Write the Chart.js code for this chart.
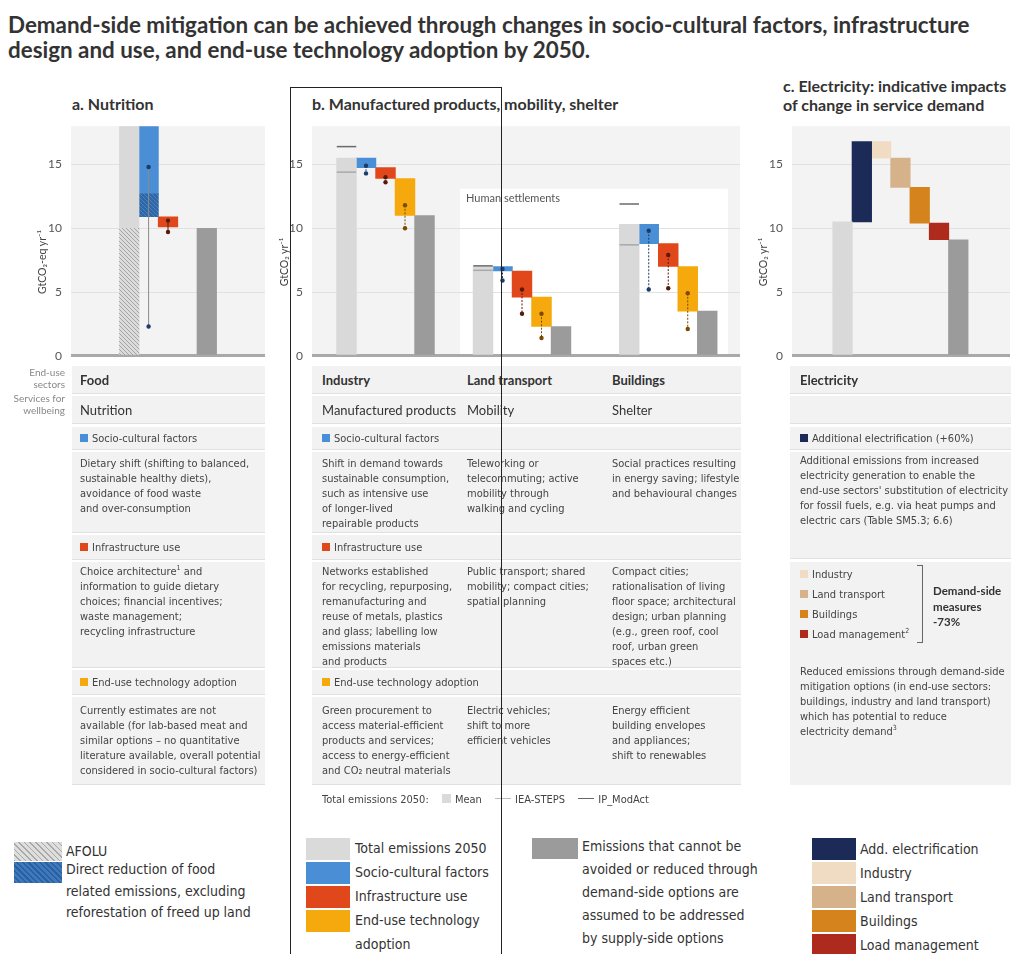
<!DOCTYPE html>
<html>
<head>
<meta charset="utf-8">
<script src="https://cdn.jsdelivr.net/npm/chart.js@4.4.1/dist/chart.umd.min.js"></script>
<style>
  body { margin:0; width:1013px; height:954px; overflow:hidden; background:#fff; position:relative;
         font-family: Lato, 'Open Sans', sans-serif; color:#3a3a3a; }
  canvas { position:absolute; }
  h1 { position:absolute; left:8px; top:12px; margin:0; font-size:22.4px; line-height:25px; font-weight:700; color:#333; white-space:nowrap; }
  .ptitle { position:absolute; font-weight:700; font-size:16px; line-height:19px; color:#333; white-space:nowrap; }
  .ytitle { position:absolute; width:120px; height:14px; margin-left:-60px; margin-top:-7px; text-align:center;
            font-size:10.5px; line-height:14px; color:#444; transform:rotate(-90deg); white-space:nowrap; }
  .side { position:absolute; right:948px; text-align:right; font-size:10px; line-height:12px; color:#888; }
  .cell { position:absolute; background:#f2f2f2; box-shadow: inset 0 -1px 0 #e0e0e0;
          font-family:'Liberation Sans Narrow', 'DejaVu Sans Condensed', sans-serif; font-size:11px; color:#444; }
  .pa { left:72px; width:193px; } .pb { left:312px; width:429px; } .pc { left:790px; width:221px; }
  .c { position:absolute; white-space:nowrap; }
  .r0 { top:366px; height:28px; line-height:28px; } .r1 { top:396px; height:28px; line-height:28px; }
  .r2 { top:427px; height:23px; line-height:23px; } .r3 { top:452px; height:81px; line-height:15px; }
  .r4 { top:535px; height:25px; line-height:25px; } .r5 { top:562px; height:106px; line-height:15px; }
  .r6 { top:670px; height:25px; line-height:25px; } .r7 { top:697px; height:88px; line-height:15px; }
  .r0 .c { font-family:Lato, sans-serif; font-weight:700; font-size:13px; color:#333; }
  .r1 .c { font-family:Lato, sans-serif; font-size:13px; color:#333; }
  .r3 .c { top:4px; } .r5 .c { top:2px; } .r7 .c { top:6px; }
  .sq { display:inline-block; width:8px; height:8px; margin-right:4px; vertical-align:0px; }
  .leg { position:absolute; font-family:'Liberation Sans Narrow', 'DejaVu Sans Condensed', sans-serif; font-size:14px; color:#333; white-space:nowrap; }
  .sw { position:absolute; }
  sup { font-size:7px; line-height:0; }
</style>
</head>
<body>
<h1>Demand-side mitigation can be achieved through changes in socio-cultural factors, infrastructure<br>design and use, and end-use technology adoption by 2050.</h1>

<div class="ptitle" style="left:72px; top:94px;">a. Nutrition</div>
<div class="ptitle" style="left:312px; top:94px;">b. Manufactured products, mobility, shelter</div>
<div class="ptitle" style="left:783px; top:76px;">c. Electricity: indicative impacts<br>of change in service demand</div>

<canvas id="chartA" width="238" height="262" style="left:32px; top:110px;"></canvas>
<canvas id="chartB" width="472" height="262" style="left:273px; top:110px;"></canvas>
<canvas id="chartC" width="260" height="262" style="left:753px; top:110px;"></canvas>

<div class="ytitle" style="left:42px; top:262px;">GtCO₂-eq yr⁻¹</div>
<div class="ytitle" style="left:284px; top:262px;">GtCO₂ yr⁻¹</div>
<div class="ytitle" style="left:763px; top:262px;">GtCO₂ yr⁻¹</div>

<div class="side" style="top:366px;">End-use<br>sectors</div>
<div class="side" style="top:392px;">Services for<br>wellbeing</div>

<!-- a. Nutrition -->
<div class="cell pa r0"><div class="c" style="left:8px">Food</div></div>
<div class="cell pa r1"><div class="c" style="left:8px">Nutrition</div></div>
<div class="cell pa r2"><div class="c" style="left:8px"><span class="sq" style="background:#4a8fd6"></span>Socio-cultural factors</div></div>
<div class="cell pa r3"><div class="c" style="left:8px">Dietary shift (shifting to balanced,<br>sustainable healthy diets),<br>avoidance of food waste<br>and over-consumption</div></div>
<div class="cell pa r4"><div class="c" style="left:8px"><span class="sq" style="background:#e0481c"></span>Infrastructure use</div></div>
<div class="cell pa r5"><div class="c" style="left:8px">Choice architecture<sup>1</sup> and<br>information to guide dietary<br>choices; financial incentives;<br>waste management;<br>recycling infrastructure</div></div>
<div class="cell pa r6"><div class="c" style="left:8px"><span class="sq" style="background:#f5a90c"></span>End-use technology adoption</div></div>
<div class="cell pa r7"><div class="c" style="left:8px">Currently estimates are not<br>available (for lab-based meat and<br>similar options – no quantitative<br>literature available, overall potential<br>considered in socio-cultural factors)</div></div>

<!-- b. Manufactured products, mobility, shelter -->
<div class="cell pb r0"><div class="c" style="left:10px">Industry</div><div class="c" style="left:155px">Land transport</div><div class="c" style="left:300px">Buildings</div></div>
<div class="cell pb r1"><div class="c" style="left:10px">Manufactured products</div><div class="c" style="left:155px">Mobility</div><div class="c" style="left:300px">Shelter</div></div>
<div class="cell pb r2"><div class="c" style="left:10px"><span class="sq" style="background:#4a8fd6"></span>Socio-cultural factors</div></div>
<div class="cell pb r3"><div class="c" style="left:10px">Shift in demand towards<br>sustainable consumption,<br>such as intensive use<br>of longer-lived<br>repairable products</div><div class="c" style="left:155px">Teleworking or<br>telecommuting; active<br>mobility through<br>walking and cycling</div><div class="c" style="left:300px">Social practices resulting<br>in energy saving; lifestyle<br>and behavioural changes</div></div>
<div class="cell pb r4"><div class="c" style="left:10px"><span class="sq" style="background:#e0481c"></span>Infrastructure use</div></div>
<div class="cell pb r5"><div class="c" style="left:10px">Networks established<br>for recycling, repurposing,<br>remanufacturing and<br>reuse of metals, plastics<br>and glass; labelling low<br>emissions materials<br>and products</div><div class="c" style="left:155px">Public transport; shared<br>mobility; compact cities;<br>spatial planning</div><div class="c" style="left:300px">Compact cities;<br>rationalisation of living<br>floor space; architectural<br>design; urban planning<br>(e.g., green roof, cool<br>roof, urban green<br>spaces etc.)</div></div>
<div class="cell pb r6"><div class="c" style="left:10px"><span class="sq" style="background:#f5a90c"></span>End-use technology adoption</div></div>
<div class="cell pb r7"><div class="c" style="left:10px">Green procurement to<br>access material-efficient<br>products and services;<br>access to energy-efficient<br>and CO₂ neutral materials</div><div class="c" style="left:155px">Electric vehicles;<br>shift to more<br>efficient vehicles</div><div class="c" style="left:300px">Energy efficient<br>building envelopes<br>and appliances;<br>shift to renewables</div></div>
<div class="leg" style="left:322px; top:792px; font-size:11px; line-height:16px; color:#444;">Total emissions 2050:
  <span style="display:inline-block; width:9px; height:9px; background:#dadada; margin:0 4px 0 10px;"></span>Mean
  <span style="display:inline-block; width:16px; height:1px; background:#bbb; vertical-align:4px; margin:0 4px 0 10px;"></span>IEA-STEPS
  <span style="display:inline-block; width:16px; height:1.5px; background:#666; vertical-align:4px; margin:0 4px 0 10px;"></span>IP_ModAct</div>

<!-- c. Electricity -->
<div class="cell pc r0"><div class="c" style="left:10px">Electricity</div></div>
<div class="cell pc r1"></div>
<div class="cell pc r2"><div class="c" style="left:10px"><span class="sq" style="background:#1c2a58"></span>Additional electrification (+60%)</div></div>
<div class="cell pc" style="top:452px; height:107px; line-height:15px;"><div class="c" style="left:10px; top:1px;">Additional emissions from increased<br>electricity generation to enable the<br>end-use sectors' substitution of electricity<br>for fossil fuels, e.g. via heat pumps and<br>electric cars (Table SM5.3; 6.6)</div></div>
<div class="cell pc" style="top:562px; height:223px; line-height:20px; box-shadow:none;">
  <div class="c" style="left:10px; top:3px;"><span class="sq" style="background:#efdcc3"></span>Industry<br><span class="sq" style="background:#d6b28b"></span>Land transport<br><span class="sq" style="background:#d5831c"></span>Buildings<br><span class="sq" style="background:#ad2a1d"></span>Load management<sup>2</sup></div>
  <div style="position:absolute; left:127px; top:3px; width:5px; height:76px; border:1px solid #666; border-left:none;"></div>
  <div class="c" style="left:143px; top:21px; line-height:15.5px; font-family:Lato, sans-serif; font-weight:700; font-size:11.5px; color:#333;">Demand-side<br>measures<br>-73%</div>
  <div class="c" style="left:10px; top:102px; line-height:15px;">Reduced emissions through demand-side<br>mitigation options (in end-use sectors:<br>buildings, industry and land transport)<br>which has potential to reduce<br>electricity demand<sup>3</sup></div>
</div>

<!-- legends -->
<div class="sw" style="left:14px; top:842px; width:48px; height:19px; background:repeating-linear-gradient(45deg, #a8a8a8 0 1px, #dedede 1px 4px);"></div>
<div class="leg" style="left:66px; top:840px; line-height:22px;">AFOLU</div>
<div class="sw" style="left:14px; top:862px; width:48px; height:21px; background:repeating-linear-gradient(45deg, #2b609f 0 1.5px, #3e79bd 1.5px 4px);"></div>
<div class="leg" style="left:66px; top:859px; line-height:21.5px;">Direct reduction of food<br>related emissions, excluding<br>reforestation of freed up land</div>

<div class="sw" style="left:306px; top:838px; width:44px; height:22px; background:#dadada;"></div>
<div class="sw" style="left:306px; top:862px; width:44px; height:22px; background:#4a8fd6;"></div>
<div class="sw" style="left:306px; top:886px; width:44px; height:22px; background:#e0481c;"></div>
<div class="sw" style="left:306px; top:910px; width:44px; height:22px; background:#f5a90c;"></div>
<div class="leg" style="left:355px; top:836px; line-height:24px;">Total emissions 2050<br>Socio-cultural factors<br>Infrastructure use<br>End-use technology<br><span style="line-height:20px">adoption</span></div>

<div class="sw" style="left:532px; top:838px; width:46px; height:21px; background:#9b9b9b;"></div>
<div class="leg" style="left:582px; top:835px; line-height:23px;">Emissions that cannot be<br>avoided or reduced through<br>demand-side options are<br>assumed to be addressed<br>by supply-side options</div>

<div class="sw" style="left:812px; top:838px; width:44px; height:22px; background:#1c2a58;"></div>
<div class="sw" style="left:812px; top:862px; width:44px; height:22px; background:#efdcc3;"></div>
<div class="sw" style="left:812px; top:886px; width:44px; height:22px; background:#d6b28b;"></div>
<div class="sw" style="left:812px; top:910px; width:44px; height:22px; background:#d5831c;"></div>
<div class="sw" style="left:812px; top:934px; width:44px; height:20px; background:#ad2a1d;"></div>
<div class="leg" style="left:860px; top:837px; line-height:24px;">Add. electrification<br>Industry<br>Land transport<br>Buildings<br>Load management</div>

<!-- highlight frame around the middle block -->
<div style="position:absolute; left:290px; top:87px; width:212px; height:900px; box-sizing:border-box; border:1.5px solid #222; border-bottom:none; z-index:5;"></div>

<script>
// ---- a. Nutrition (GtCO2-eq/yr) ----
const aBars = ['Total emissions 2050', 'Socio-cultural factors', 'Infrastructure use', 'Remaining emissions'];
const aTotal = 18.5;          // runs off the top of the axis
const aAfolu = 10.0;          // hatched AFOLU share of the total
const aAfterSocio = 10.9;
const aDirectFood = 12.7;     // top of the hatched direct-reduction part
const aAfterInfra = 10.1;
const aResidual = 10.0;
const aSocioMean = 14.8, aSocioLow = 2.3;
const aInfraMean = 10.6, aInfraLow = 9.7;

// ---- b. Manufactured products, mobility, shelter (GtCO2/yr) ----
const bGroups = ['Industry', 'Land transport', 'Buildings'];
const bTotal = [15.5, 7.0, 10.3];
const bAfterSocio = [14.75, 6.65, 8.8];
const bAfterInfra = [13.9, 4.6, 7.0];
const bResidual = [11.0, 2.3, 3.5];
const bSocioMean = [14.9, 6.8, 9.8], bSocioLow = [14.3, 5.9, 5.2];
const bInfraMean = [14.0, 5.2, 7.9], bInfraLow = [13.6, 3.3, 5.3];
const bTechMean = [11.8, 3.3, 4.9], bTechLow = [10.0, 1.4, 2.1];
const bIeaSteps = [14.4, 6.7, 8.7];
const bIpModAct = [16.4, 7.05, 11.9];

// ---- c. Electricity (GtCO2/yr) ----
const cBars = ['Total emissions 2050', 'Add. electrification', 'Industry', 'Land transport', 'Buildings', 'Load management', 'Remaining emissions'];
const cTotal = 10.5;
const cElectrified = 16.8;
const cAfterIndustry = 15.5;
const cAfterLandTransport = 13.2;
const cAfterBuildings = 10.4;
const cResidual = 9.1;

const yTicks = [0, 5, 10, 15];

const GREY = '#d9d9d9', DARK = '#9b9b9b', BLUE = '#4a8fd6', RED = '#e0481c', AMBER = '#f5a90c';

function hatch(bg, fg) {
  const c = document.createElement('canvas');
  c.width = c.height = 4;
  const g = c.getContext('2d');
  g.fillStyle = bg; g.fillRect(0, 0, 4, 4);
  g.strokeStyle = fg; g.lineWidth = 1;
  g.beginPath();
  g.moveTo(0, 0); g.lineTo(4, 4);
  g.moveTo(-1, 3); g.lineTo(1, 5);
  g.moveTo(3, -1); g.lineTo(5, 1);
  g.stroke();
  return g.createPattern(c, 'repeat');
}

// light plot background, plus the optional "Human settlements" panel
const plotBg = {
  id: 'plotBg',
  beforeDraw(chart, args, opts) {
    const { ctx, chartArea: a, scales: { x, y } } = chart;
    ctx.save();
    ctx.fillStyle = '#f3f3f3';
    ctx.fillRect(a.left, a.top, a.width, a.height);
    if (opts.box) {
      const x0 = x.getPixelForValue(opts.box.from), x1 = x.getPixelForValue(opts.box.to);
      const y0 = y.getPixelForValue(opts.box.top);
      ctx.fillStyle = '#ffffff';
      ctx.fillRect(x0, y0, x1 - x0, a.bottom - y0);
      ctx.fillStyle = '#555';
      ctx.font = '11px Lato, sans-serif';
      ctx.textBaseline = 'middle';
      ctx.fillText(opts.box.label, x0 + 6, y0 + 10);
    }
    ctx.restore();
  }
};

// range whiskers (central dot + low dot) and scenario reference lines
const marks = {
  id: 'marks',
  afterDatasetsDraw(chart, args, opts) {
    const { ctx, scales: { x, y } } = chart;
    ctx.save();
    (opts.refs || []).forEach(r => {
      const half = (opts.barWidth || 19) / 2;
      const px = x.getPixelForValue(r.x);
      ctx.strokeStyle = r.color;
      ctx.lineWidth = 1.5;
      ctx.beginPath();
      ctx.moveTo(px - half, y.getPixelForValue(r.value));
      ctx.lineTo(px + half, y.getPixelForValue(r.value));
      ctx.stroke();
    });
    (opts.whiskers || []).forEach(w => {
      const px = x.getPixelForValue(w.x);
      const top = y.getPixelForValue(w.mean), bot = y.getPixelForValue(w.low);
      ctx.strokeStyle = w.line || w.color;
      ctx.lineWidth = 1;
      ctx.setLineDash(opts.dash || []);
      ctx.beginPath(); ctx.moveTo(px, top); ctx.lineTo(px, bot); ctx.stroke();
      ctx.setLineDash([]);
      ctx.fillStyle = w.color;
      [top, bot].forEach(py => { ctx.beginPath(); ctx.arc(px, py, 2.2, 0, Math.PI * 2); ctx.fill(); });
    });
    ctx.restore();
  }
};

function yScale() {
  return {
    min: 0, max: 18,
    afterFit: s => { s.width = 39; },
    afterBuildTicks: s => { s.ticks = yTicks.map(v => ({ value: v })); },
    border: { display: false },
    ticks: { padding: 9, color: '#555', font: { family: 'Lato', size: 12 } },
    grid: {
      drawTicks: false,
      color: c => c.tick.value === 0 ? '#a9a9a9' : '#e1e1e1',
      lineWidth: c => c.tick.value === 0 ? 3 : 1
    }
  };
}

function bar(label, pts, color, width) {
  return { label, data: pts, backgroundColor: color, grouped: false, barThickness: width, borderWidth: 0 };
}

function baseOptions(xMin, xMax, padRight) {
  return {
    responsive: false,
    animation: false,
    layout: { padding: { top: 6, right: padRight, bottom: 2, left: 0 } },
    scales: { x: { type: 'linear', offset: false, min: xMin, max: xMax, display: false }, y: yScale() },
    plugins: { legend: { display: false }, tooltip: { enabled: false } }
  };
}

// ---- chart a ----
(() => {
  const w = 19.6;
  const pos = [3, 4, 5, 7];
  const opts = baseOptions(0, 10, 5);
  opts.plugins.marks = {
    whiskers: [
      { x: pos[1], mean: aSocioMean, low: aSocioLow, color: '#1d3b6c', line: '#8a8a8a' },
      { x: pos[2], mean: aInfraMean, low: aInfraLow, color: '#5a1a0a' }
    ]
  };
  new Chart(document.getElementById('chartA'), {
    type: 'bar',
    data: {
      datasets: [
        bar('AFOLU', [{ x: pos[0], y: [0, aAfolu] }], hatch('#dcdcdc', '#a4a4a4'), w),
        bar(aBars[0], [{ x: pos[0], y: [aAfolu, aTotal] }], GREY, w),
        bar('Direct reduction of food related emissions', [{ x: pos[1], y: [aAfterSocio, aDirectFood] }], hatch('#2f66a6', '#4a80c0'), w),
        bar(aBars[1], [{ x: pos[1], y: [aDirectFood, aTotal] }], BLUE, w),
        bar(aBars[2], [{ x: pos[2], y: [aAfterInfra, aAfterSocio] }], RED, w),
        bar(aBars[3], [{ x: pos[3], y: [0, aResidual] }], DARK, w)
      ]
    },
    options: opts,
    plugins: [plotBg, marks]
  });
})();

// ---- chart b ----
(() => {
  const w = 19.8;
  const groupStart = [2, 9, 16.5];
  const at = (g, i) => groupStart[g] + i;
  const idx = bGroups.map((_, g) => g);
  const opts = baseOptions(0.23, 22.18, 5);
  opts.plugins.plotBg = { box: { from: 7.82, to: 21.56, top: 13.1, label: 'Human settlements' } };
  opts.plugins.marks = {
    barWidth: 19.5,
    dash: [2, 1.5],
    refs: idx.flatMap(g => [
      { x: at(g, 0), value: bIeaSteps[g], color: '#a9a9a9' },
      { x: at(g, 0), value: bIpModAct[g], color: '#6a6a6a' }
    ]),
    whiskers: idx.flatMap(g => [
      { x: at(g, 1), mean: bSocioMean[g], low: bSocioLow[g], color: '#1d3b6c' },
      { x: at(g, 2), mean: bInfraMean[g], low: bInfraLow[g], color: '#5a1a0a' },
      { x: at(g, 3), mean: bTechMean[g], low: bTechLow[g], color: '#7a4a00' }
    ])
  };
  new Chart(document.getElementById('chartB'), {
    type: 'bar',
    data: {
      datasets: [
        bar('Total emissions 2050', idx.map(g => ({ x: at(g, 0), y: [0, bTotal[g]] })), GREY, w),
        bar('Socio-cultural factors', idx.map(g => ({ x: at(g, 1), y: [bAfterSocio[g], bTotal[g]] })), BLUE, w),
        bar('Infrastructure use', idx.map(g => ({ x: at(g, 2), y: [bAfterInfra[g], bAfterSocio[g]] })), RED, w),
        bar('End-use technology adoption', idx.map(g => ({ x: at(g, 3), y: [bResidual[g], bAfterInfra[g]] })), AMBER, w),
        bar('Remaining emissions', idx.map(g => ({ x: at(g, 4), y: [0, bResidual[g]] })), DARK, w)
      ]
    },
    options: opts,
    plugins: [plotBg, marks]
  });
})();

// ---- chart c ----
(() => {
  const w = 19.6;
  const pos = cBars.map((_, i) => i + 2);
  const ranges = [
    [0, cTotal],
    [cTotal, cElectrified],
    [cAfterIndustry, cElectrified],
    [cAfterLandTransport, cAfterIndustry],
    [cAfterBuildings, cAfterLandTransport],
    [cResidual, cAfterBuildings],
    [0, cResidual]
  ];
  const colors = [GREY, '#1c2a58', '#efdcc3', '#d6b28b', '#d5831c', '#ad2a1d', DARK];
  new Chart(document.getElementById('chartC'), {
    type: 'bar',
    data: {
      datasets: cBars.map((name, i) => bar(name, [{ x: pos[i], y: ranges[i] }], colors[i], w))
    },
    options: baseOptions(-0.62, 10.68, 3),
    plugins: [plotBg]
  });
})();
</script>
</body>
</html>
